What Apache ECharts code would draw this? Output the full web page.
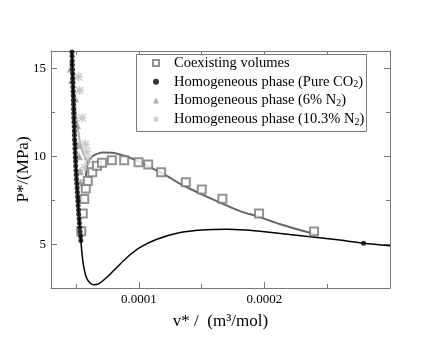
<!DOCTYPE html>
<html>
<head>
<meta charset="utf-8">
<script src="https://cdn.jsdelivr.net/npm/echarts/dist/echarts.min.js"></script>
<style>html,body{margin:0;padding:0;background:#fff}#c{width:440px;height:340px}</style>
</head>
<body>
<div id="c"></div>
<script>
// ---- data (v in m^3/mol, P in MPa) ----
const coexV = [5.41e-5, 5.53e-5, 5.65e-5, 5.77e-5, 5.93e-5, 6.29e-5, 6.66e-5, 7.06e-5, 7.85e-5, 8.83e-5, 9.97e-5, 1.074e-4, 1.177e-4, 1.374e-4, 1.501e-4, 1.665e-4, 1.957e-4, 2.395e-4];
const coexP = [5.73, 6.75, 7.57, 8.17, 8.59, 9.10, 9.47, 9.64, 9.77, 9.77, 9.66, 9.53, 9.09, 8.53, 8.11, 7.59, 6.75, 5.72];

const co2V = [4.67e-5, 4.68e-5, 4.69e-5, 4.70e-5, 4.71e-5, 4.72e-5, 4.73e-5, 4.74e-5, 4.75e-5, 4.76e-5, 4.77e-5, 4.78e-5, 4.79e-5, 4.80e-5, 4.81e-5, 4.82e-5, 4.83e-5, 4.85e-5, 4.86e-5, 4.87e-5, 4.88e-5, 4.90e-5, 4.91e-5, 4.93e-5, 4.94e-5, 4.96e-5, 4.97e-5, 4.99e-5, 5.01e-5, 5.03e-5, 5.05e-5, 5.08e-5, 5.10e-5, 5.12e-5, 5.14e-5, 5.16e-5, 5.19e-5, 5.21e-5, 5.24e-5, 5.26e-5, 5.29e-5, 5.32e-5, 5.35e-5, 5.38e-5, 2.79e-4];
const co2P = [15.95, 15.7, 15.45, 15.2, 14.95, 14.7, 14.45, 14.2, 13.95, 13.7, 13.45, 13.2, 12.95, 12.7, 12.45, 12.2, 11.95, 11.7, 11.45, 11.2, 10.95, 10.7, 10.45, 10.2, 9.95, 9.7, 9.45, 9.2, 8.95, 8.7, 8.45, 8.2, 7.95, 7.7, 7.45, 7.2, 6.95, 6.7, 6.45, 6.2, 5.95, 5.7, 5.45, 5.2, 5.05];

const n6V = [4.58e-5, 4.67e-5, 4.93e-5, 5.07e-5, 5.12e-5, 5.23e-5, 5.33e-5, 5.33e-5, 5.41e-5];
const n6P = [15.0, 14.34, 13.3, 11.79, 10.66, 10.0, 9.15, 8.49, 7.64];

const n10V = [5.20e-5, 5.28e-5, 5.47e-5, 5.73e-5, 5.85e-5, 5.97e-5, 5.70e-5, 5.65e-5];
const n10P = [14.53, 13.75, 12.19, 10.69, 10.26, 9.81, 9.35, 8.5];

// EOS curves
const eosCO2V = [4.66e-5, 4.80e-5, 4.93e-5, 5.12e-5, 5.26e-5, 5.39e-5, 5.55e-5, 5.81e-5, 6.13e-5, 6.44e-5, 6.79e-5, 7.45e-5, 8.25e-5, 9.05e-5, 1.01e-4, 1.143e-4, 1.329e-4, 1.50e-4, 1.70e-4, 1.85e-4, 2.02e-4, 2.20e-4, 2.42e-4, 2.60e-4, 2.79e-4, 3.0e-4];
const eosCO2P = [16.0, 12.9, 10.1, 7.8, 6.3, 5.09, 3.96, 3.11, 2.77, 2.68, 2.73, 3.11, 3.68, 4.24, 4.81, 5.28, 5.66, 5.81, 5.85, 5.80, 5.69, 5.55, 5.38, 5.23, 5.05, 4.90];

const coexCurveV = [5.77e-5, 5.88e-5, 6.0e-5, 6.26e-5, 6.66e-5, 7.18e-5, 7.85e-5, 8.78e-5, 9.84e-5, 1.09e-4, 1.223e-4, 1.355e-4, 1.488e-4, 1.62e-4, 1.806e-4, 1.957e-4, 2.125e-4, 2.395e-4, 2.43e-4];
const coexCurveP = [8.85, 9.45, 9.75, 9.98, 10.14, 10.22, 10.21, 10.05, 9.76, 9.38, 8.88, 8.33, 7.88, 7.45, 6.88, 6.55, 6.13, 5.58, 5.5];

const mixCurveV = [4.50e-5, 4.70e-5, 4.82e-5, 4.97e-5, 5.10e-5, 5.30e-5, 5.50e-5, 5.77e-5, 6.10e-5];
const mixCurveP = [15.4, 14.5, 13.7, 12.6, 11.8, 10.85, 10.3, 9.85, 9.6];

// axis ticks
const xMajor = [0.0001, 0.0002];
const xMinor = [0.00005, 0.00015, 0.00025];
const xTickLabels = ['0.0001', '0.0002'];
const yMajor = [5, 10, 15];
const yMinor = [7.5, 12.5];
const yTickLabels = ['5', '10', '15'];

const legendNames = ['Coexisting volumes', 'Homogeneous phase (Pure CO2)', 'Homogeneous phase (6% N2)', 'Homogeneous phase (10.3% N2)'];

function zip(a, b) { return a.map((v, i) => [v, b[i]]); }

const FONT = 'Liberation Serif';
const AX = '#777';
const asterisk = 'path://M-5,-0.8h10v1.6h-10zM-0.8,-5h1.6v10h-1.6zM-3.5,-4.6L4.6,3.5L3.5,4.6L-4.6,-3.5zM3.5,-4.6L4.6,-3.5L-3.5,4.6L-4.6,3.5z';

function xAxisDef(pos, ticks, len, labels, line) {
  return {
    type: 'value', position: pos, min: 0.00003, max: 0.0003,
    axisLine: { show: line, onZero: false, lineStyle: { color: AX, width: 1 } },
    axisTick: { show: true, inside: true, length: len, customValues: ticks, lineStyle: { color: AX } },
    axisLabel: labels ? { show: true, customValues: xMajor, margin: 5, color: '#000', fontFamily: FONT, fontSize: 13,
      formatter: v => xTickLabels[xMajor.findIndex(t => Math.abs(t - v) < 1e-9)] } : { show: false },
    splitLine: { show: false }
  };
}
function yAxisDef(pos, ticks, len, labels, line) {
  return {
    type: 'value', position: pos, min: 2.5, max: 16,
    axisLine: { show: line, onZero: false, lineStyle: { color: AX, width: 1 } },
    axisTick: { show: true, inside: true, length: len, customValues: ticks, lineStyle: { color: AX } },
    axisLabel: labels ? { show: true, customValues: yMajor, margin: 5, color: '#000', fontFamily: FONT, fontSize: 13,
      formatter: v => yTickLabels[yMajor.indexOf(v)] } : { show: false },
    splitLine: { show: false }
  };
}

const xAxes = [xAxisDef('bottom', xMajor, 6, true, true), xAxisDef('bottom', xMinor, 4, false, false),
  xAxisDef('top', xMajor, 6, false, true), xAxisDef('top', xMinor, 4, false, false)];
xAxes[0].name = 'v* /  (m³/mol)';
xAxes[0].nameLocation = 'middle';
xAxes[0].nameGap = 25;
xAxes[0].nameMoveOverlap = false;
xAxes[0].nameTextStyle = { fontFamily: FONT, fontSize: 17, color: '#000' };
const yAxes = [yAxisDef('left', yMajor, 6, true, true), yAxisDef('left', yMinor, 4, false, false),
  yAxisDef('right', yMajor, 6, false, true), yAxisDef('right', yMinor, 4, false, false)];
yAxes[0].name = 'P*/(MPa)';
yAxes[0].nameLocation = 'middle';
yAxes[0].nameGap = 19;
yAxes[0].nameMoveOverlap = false;
yAxes[0].nameTextStyle = { fontFamily: FONT, fontSize: 17, color: '#000' };

const chart = echarts.init(document.getElementById('c'), null, { renderer: 'canvas' });
chart.setOption({
  animation: false,
  backgroundColor: '#fff',
  grid: { left: 51, top: 51, width: 339, height: 237, containLabel: false, outerBoundsMode: 'none' },
  xAxis: xAxes,
  yAxis: yAxes,
  graphic: [{ type: 'rect', left: 136, top: 54, z: 5, shape: { width: 230, height: 77 },
    style: { fill: '#fff', stroke: AX, lineWidth: 1 } }],
  legend: {
    data: legendNames, orient: 'vertical', left: 152, top: 55, z: 10,
    itemWidth: 6, itemHeight: 6, itemGap: 2.7, padding: 0,
    textStyle: { fontFamily: FONT, fontSize: 14.5, color: '#000', lineHeight: 16, padding: [0, 0, 0, 10],
      rich: { s: { fontFamily: FONT, fontSize: 10, lineHeight: 10, verticalAlign: 'bottom', color: '#000' } } },
    formatter: n => n.replace('2)', '{s|2})')
  },
  series: [
    { type: 'line', data: zip(mixCurveV, mixCurveP), symbol: 'none', smooth: 0.3, lineStyle: { color: '#b4b4b4', width: 2 }, z: 2 },
    { type: 'line', data: zip(coexCurveV, coexCurveP), symbol: 'none', smooth: 0.3, lineStyle: { color: '#666', width: 2 }, z: 2 },
    { type: 'line', data: zip(eosCO2V, eosCO2P), symbol: 'none', smooth: 0.3, lineStyle: { color: '#000', width: 1.5 }, z: 2 },
    { name: legendNames[3], type: 'scatter', data: zip(n10V, n10P), symbol: asterisk, symbolSize: 9, itemStyle: { color: '#bdbdbd' }, z: 3 },
    { name: legendNames[2], type: 'scatter', data: zip(n6V, n6P), symbol: 'triangle', symbolSize: 8, itemStyle: { color: '#9a9a9a' }, z: 3 },
    { name: legendNames[0], type: 'scatter', data: zip(coexV, coexP), symbol: 'emptyRect', symbolSize: 8, itemStyle: { color: '#777', borderWidth: 1 }, z: 4 },
    { name: legendNames[1], type: 'scatter', data: zip(co2V, co2P), symbol: 'circle', symbolSize: 5, itemStyle: { color: '#000' }, z: 4 }
  ]
});
</script>
</body>
</html>
